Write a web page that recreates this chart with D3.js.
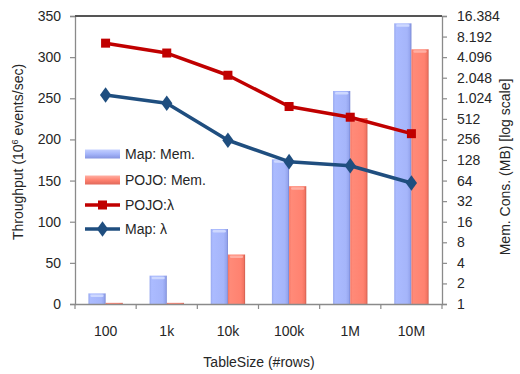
<!DOCTYPE html>
<html>
<head>
<meta charset="utf-8">
<script src="https://cdn.jsdelivr.net/npm/d3@7/dist/d3.min.js"></script>
<style>
  html, body { margin: 0; padding: 0; background: #fff; }
  svg text { font-family: "Liberation Sans", Arial, sans-serif; fill: #262626; }
</style>
</head>
<body>
<svg id="chart" width="520" height="374"></svg>
<script>
// Table sizes (categories)
const categories = ["100", "1k", "10k", "100k", "1M", "10M"];
// Memory consumption in MB (right, log2 axis)
const mapMem  = [1.43, 2.6, 12.5, 131, 1310, 12800];
const pojoMem = [1.04, 1.04, 5.3, 53, 527, 5340];
// Throughput in 10^6 events/sec (left axis)
const pojoThroughput = [317, 305, 278, 240, 227, 207];
const mapThroughput  = [254, 244, 199, 173, 168, 147];
// Tick values
const leftTicks  = [0, 50, 100, 150, 200, 250, 300, 350];
const rightTicks = [1, 2, 4, 8, 16, 32, 64, 128, 256, 512, 1024, 2048, 4096, 8192, 16384];

const svg = d3.select("#chart");
const plot = { left: 75, right: 442, top: 16, bottom: 304 };

const x = d3.scaleBand().domain(categories).range([plot.left, plot.right]).paddingInner(0).paddingOuter(0);
const x1 = d3.scaleBand().domain(["map", "pojo"]).range([0, x.bandwidth()]).paddingInner(0).paddingOuter(0.78);
const yL = d3.scaleLinear().domain([0, 350]).range([plot.bottom, plot.top]);
const yR = d3.scaleLog().base(2).domain([1, 16384]).range([plot.bottom, plot.top]);

// Bar gradients with a soft bevelled look
const defs = svg.append("defs");
function barGradient(id, stops) {
  const g = defs.append("linearGradient").attr("id", id).attr("x1", "0").attr("x2", "1").attr("y1", "0").attr("y2", "0");
  stops.forEach(s => g.append("stop").attr("offset", s[0]).attr("stop-color", s[1]));
}
barGradient("gMap",  [["0%", "#97a8ee"], ["12%", "#abbbff"], ["75%", "#a5b5fa"], ["92%", "#95a5ee"], ["100%", "#6f7fcf"]]);
barGradient("gPojo", [["0%", "#f47563"], ["12%", "#ff8a78"], ["75%", "#ff8270"], ["92%", "#f27462"], ["100%", "#c95a4c"]]);

const memSeries = [
  { key: "map",  values: mapMem,  fill: "url(#gMap)",  cap: "#d2dcff" },
  { key: "pojo", values: pojoMem, fill: "url(#gPojo)", cap: "#ffb4a8" }
];

// Bars
const barLayer = svg.append("g");
memSeries.forEach(s => {
  const g = barLayer.append("g");
  categories.forEach((c, i) => {
    const bx = x(c) + x1(s.key);
    const by = yR(s.values[i]);
    const h = plot.bottom - by;
    g.append("rect").attr("x", bx).attr("y", by).attr("width", x1.bandwidth()).attr("height", h).attr("fill", s.fill);
    if (h > 4) {
      g.append("rect").attr("x", bx + 2).attr("y", by + 1).attr("width", x1.bandwidth() - 4).attr("height", 2.5)
        .attr("rx", 1.2).attr("fill", s.cap).attr("opacity", 0.9);
    }
  });
});

// Axes
const axisColor = "#8a8a8a";
const leftAxis = svg.append("g").attr("transform", `translate(${plot.left},0)`)
  .call(d3.axisLeft(yL).tickValues(leftTicks).tickSize(5).tickPadding(9));
const rightAxis = svg.append("g").attr("transform", `translate(${plot.right},0)`)
  .call(d3.axisRight(yR).tickValues(rightTicks).tickSize(5).tickPadding(10)
    .tickFormat(d => d3.format(",")(d).replace(/,/g, ".")));
const bottomAxis = svg.append("g").attr("transform", `translate(0,${plot.bottom})`)
  .call(d3.axisBottom(x).tickSize(0).tickPadding(22));
[leftAxis, rightAxis, bottomAxis].forEach(a => {
  a.selectAll("path.domain").attr("stroke", axisColor).attr("stroke-width", 1.3);
  a.selectAll("line").attr("stroke", axisColor).attr("stroke-width", 1.2);
  a.selectAll("text").attr("font-size", 14).attr("fill", "#262626")
    .style("font-family", '"Liberation Sans", Arial, sans-serif');
});
// Category boundary ticks
svg.append("g").selectAll("line").data(categories.concat(["end"])).join("line")
  .attr("x1", (d, i) => plot.left + i * x.step()).attr("x2", (d, i) => plot.left + i * x.step())
  .attr("y1", plot.bottom).attr("y2", plot.bottom + 5)
  .attr("stroke", axisColor).attr("stroke-width", 1.2);
// Top frame line
svg.append("line").attr("x1", plot.left).attr("x2", plot.right).attr("y1", plot.top).attr("y2", plot.top)
  .attr("stroke", "#555").attr("stroke-width", 1.8);

// Throughput lines
const line = d3.line().x((d, i) => x(categories[i]) + x.bandwidth() / 2).y(d => yL(d));
const pojoColor = "#c00000", mapColor = "#1f4e7f";
svg.append("path").datum(pojoThroughput).attr("d", line).attr("fill", "none")
  .attr("stroke", pojoColor).attr("stroke-width", 3.5).attr("stroke-linejoin", "round");
svg.append("path").datum(mapThroughput).attr("d", line).attr("fill", "none")
  .attr("stroke", mapColor).attr("stroke-width", 3.5).attr("stroke-linejoin", "round");
svg.append("g").selectAll("rect").data(pojoThroughput).join("rect")
  .attr("x", (d, i) => x(categories[i]) + x.bandwidth() / 2 - 4.5).attr("y", d => yL(d) - 4.5)
  .attr("width", 9).attr("height", 9).attr("fill", pojoColor);
const diamond = d3.symbol().type(d3.symbolDiamond).size(70);
svg.append("g").selectAll("path").data(mapThroughput).join("path")
  .attr("d", diamond)
  .attr("transform", (d, i) => `translate(${x(categories[i]) + x.bandwidth() / 2},${yL(d)}) scale(1.25,1)`)
  .attr("fill", mapColor);

// Legend
const legend = svg.append("g").attr("transform", "translate(85,0)");
const legendItems = [
  { label: "Map: Mem.",  y: 154, type: "bar",  fill: "url(#gMapL)" },
  { label: "POJO: Mem.", y: 180, type: "bar",  fill: "url(#gPojoL)" },
  { label: "POJO:λ",     y: 205, type: "square" },
  { label: "Map: λ",     y: 229, type: "diamond" }
];
const lg = (id, c1, c2, c3) => {
  const g = defs.append("linearGradient").attr("id", id).attr("x1", "0").attr("x2", "0").attr("y1", "0").attr("y2", "1");
  g.append("stop").attr("offset", "0%").attr("stop-color", c1);
  g.append("stop").attr("offset", "50%").attr("stop-color", c2);
  g.append("stop").attr("offset", "100%").attr("stop-color", c3);
};
lg("gMapL", "#c4d0ff", "#a5b5fa", "#8594e0");
lg("gPojoL", "#ffb0a4", "#ff8270", "#e0685a");
legendItems.forEach(it => {
  if (it.type === "bar") {
    legend.append("rect").attr("x", 0).attr("y", it.y - 4.5).attr("width", 35).attr("height", 9).attr("fill", it.fill);
  } else if (it.type === "square") {
    legend.append("line").attr("x1", 0).attr("x2", 35).attr("y1", it.y).attr("y2", it.y).attr("stroke", pojoColor).attr("stroke-width", 3.5);
    legend.append("rect").attr("x", 13).attr("y", it.y - 4.5).attr("width", 9).attr("height", 9).attr("fill", pojoColor);
  } else {
    legend.append("line").attr("x1", 0).attr("x2", 35).attr("y1", it.y).attr("y2", it.y).attr("stroke", mapColor).attr("stroke-width", 3.5);
    legend.append("path").attr("d", diamond).attr("transform", `translate(17.5,${it.y}) scale(1.25,1)`).attr("fill", mapColor);
  }
  legend.append("text").attr("x", 40).attr("y", it.y).attr("dy", "0.35em").attr("font-size", 14).text(it.label);
});

// Axis titles
const leftTitle = svg.append("text").attr("transform", "translate(23,152) rotate(-90)")
  .attr("text-anchor", "middle").attr("font-size", 14);
leftTitle.append("tspan").text("Throughput (10");
leftTitle.append("tspan").attr("dy", -5).attr("font-size", 9).text("6");
leftTitle.append("tspan").attr("dy", 5).text(" events/sec)");

svg.append("text").attr("transform", "translate(510,167) rotate(-90)")
  .attr("text-anchor", "middle").attr("font-size", 14).text("Mem. Cons. (MB) [log scale]");

svg.append("text").attr("x", 259).attr("y", 362).attr("dy", "0.35em")
  .attr("text-anchor", "middle").attr("font-size", 14).text("TableSize (#rows)");
</script>
</body>
</html>
